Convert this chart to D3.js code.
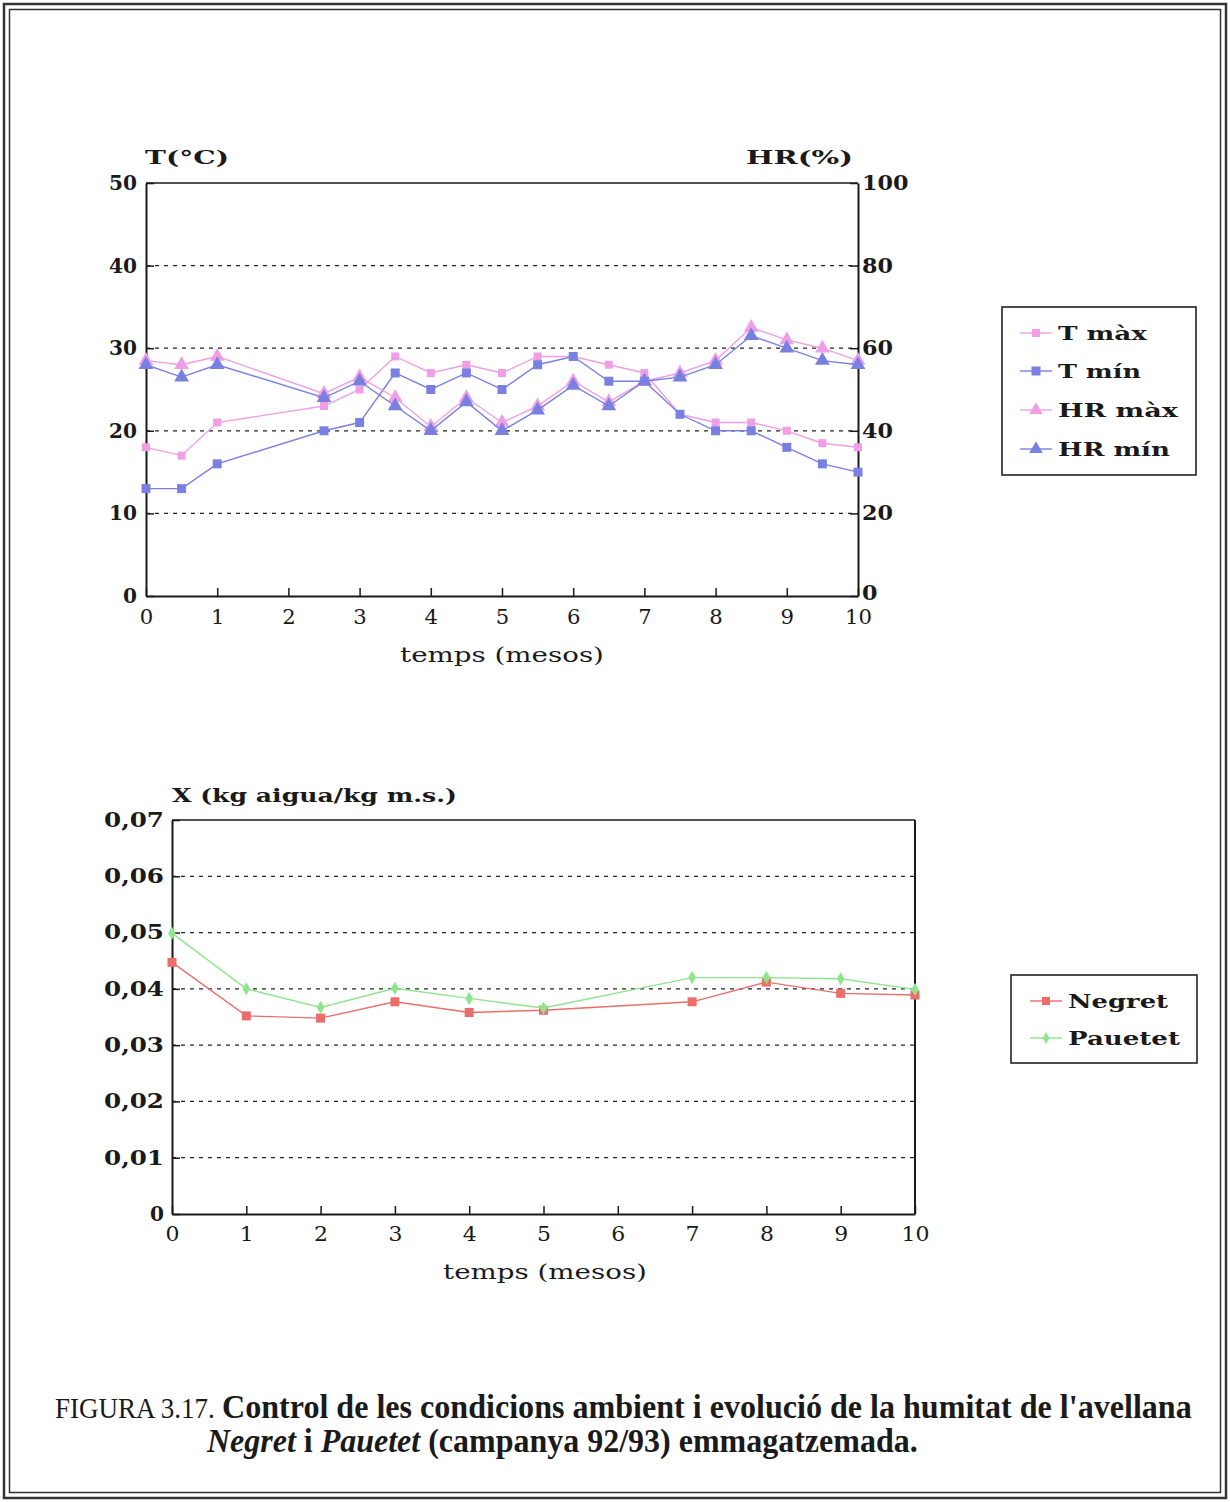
<!DOCTYPE html>
<html><head><meta charset="utf-8">
<script src="https://cdn.jsdelivr.net/npm/d3@7/dist/d3.min.js"></script>
<style>body{margin:0;background:#fff}</style>
</head><body>
<svg id="c" width="1230" height="1502" xmlns="http://www.w3.org/2000/svg"></svg>
<script>
// ---------- DATA ----------
const topMonths = [0,0.5,1,2.5,3,3.5,4,4.5,5,5.5,6,6.5,7,7.5,8,8.5,9,9.5,10];
const tMax  = [18,17,21,23,25,29,27,28,27,29,29,28,27,22,21,21,20,18.5,18];
const tMin  = [13,13,16,20,21,27,25,27,25,28,29,26,26,22,20,20,18,16,15];
const hrMax = [57,56,58,49,53,48,41,48,42,46,52,47,52,54,57,65,62,60,57];
const hrMin = [56,53,56,48,52,46,40,47,40,45,51,46,52,53,56,63,60,57,56];
const topLeftTicks  = [0,10,20,30,40,50];
const topRightTicks = [0,20,40,60,80,100];
const topGrid = [10,20,30,40];
const xTicks = [0,1,2,3,4,5,6,7,8,9,10];
const topLegend = ["T màx","T mín","HR màx","HR mín"];

const botMonths = [0,1,2,3,4,5,7,8,9,10];
const negret  = [0.0447,0.0352,0.0348,0.0377,0.0358,0.0362,0.0377,0.0412,0.0392,0.0389];
const pauetet = [0.0499,0.0400,0.0367,0.0401,0.0383,0.0366,0.0420,0.0420,0.0418,0.0399];
const botYTicks = [0,0.01,0.02,0.03,0.04,0.05,0.06,0.07];
const botGrid = [0.01,0.02,0.03,0.04,0.05,0.06];
const botLegend = ["Negret","Pauetet"];

// ---------- HELPERS ----------
const svg = d3.select("#c");
const SERIF = "'DejaVu Serif', serif";
const TIMES = "'Liberation Serif', 'Times New Roman', serif";
const PINK = "#f09ee6", BLUE = "#7a80e0", RED = "#ea6e6c", GREEN = "#8ee68c";

function fitTo(el, w) {
  const n = el.getComputedTextLength();
  const s = w / n;
  const x = +(el.getAttribute("x") || 0);
  el.setAttribute("x", 0);
  el.setAttribute("transform", `translate(${x},0) scale(${s},1)`);
}
function label(g, txt, x, y, w, size, weight, fam) {
  const t = g.append("text").attr("x", x).attr("y", y)
    .attr("font-family", fam || SERIF).attr("font-size", size)
    .attr("font-weight", weight || "bold").attr("fill", "#1a1a1a").text(txt);
  fitTo(t.node(), w);
  return t;
}
function styleAxis(g, size, weight) {
  g.attr("font-family", SERIF).attr("font-size", size).attr("font-weight", weight);
  g.select(".domain").attr("stroke", "#1a1a1a").attr("stroke-width", 2);
  g.selectAll(".tick line").attr("stroke", "#1a1a1a").attr("stroke-width", 1.5);
  g.selectAll(".tick text").attr("fill", "#1a1a1a");
}

// ---------- PAGE FRAME ----------
svg.append("rect").attr("x",4).attr("y",4).attr("width",1222).attr("height",1494)
  .attr("fill","none").attr("stroke","#333").attr("stroke-width",2.5);
svg.append("rect").attr("x",9.5).attr("y",9.5).attr("width",1211).attr("height",1483)
  .attr("fill","none").attr("stroke","#333").attr("stroke-width",1.5);

// ---------- TOP CHART ----------
const xT = d3.scaleLinear().domain([0,10]).range([146,858]);
const yT = d3.scaleLinear().domain([0,50]).range([596,183]);
const yH = d3.scaleLinear().domain([0,100]).range([596,183]);
const g1 = svg.append("g");

g1.selectAll("line.grid").data(topGrid).join("line").attr("class","grid")
  .attr("x1", xT(0)).attr("x2", xT(10)).attr("y1", d=>yT(d)).attr("y2", d=>yT(d))
  .attr("stroke","#222").attr("stroke-width",1.2).attr("stroke-dasharray","4,5");
g1.append("line").attr("x1",xT(0)).attr("x2",xT(10)).attr("y1",yT(50)).attr("y2",yT(50))
  .attr("stroke","#1a1a1a").attr("stroke-width",1.6);

const axL = g1.append("g").attr("transform",`translate(${xT(0)},0)`)
  .call(d3.axisLeft(yT).tickValues(topLeftTicks).tickSize(-8).tickSizeOuter(0).tickPadding(9));
styleAxis(axL, 20, "bold");
axL.selectAll(".tick text").each(function(d){ fitTo(this, String(d).length*14); });

const axR = g1.append("g").attr("transform",`translate(${xT(10)},0)`)
  .call(d3.axisRight(yH).tickValues(topRightTicks).tickSize(-8).tickSizeOuter(0).tickPadding(4));
styleAxis(axR, 20, "bold");
axR.selectAll(".tick text").each(function(d){ fitTo(this, String(d).length*15.5); });
axR.selectAll(".tick text").filter(d => d === 0).attr("y", -3);

const axB = g1.append("g").attr("transform",`translate(0,${yT(0)})`)
  .call(d3.axisBottom(xT).tickValues(xTicks).tickSize(-8).tickSizeOuter(0).tickPadding(14));
styleAxis(axB, 20, "normal");
axB.selectAll(".tick text").each(function(d){ fitTo(this, String(d).length*13.5); });

label(g1, "T(°C)", 145, 164, 84, 19);
label(g1, "HR(%)", 746, 164, 107, 19);
label(g1, "temps (mesos)", 400, 662, 204, 20, "normal");

const topSeries = [
  {name: topLegend[0], vals: tMax,  y: yT, color: PINK, shape: "square", sz: 8},
  {name: topLegend[1], vals: tMin,  y: yT, color: BLUE, shape: "square", sz: 9},
  {name: topLegend[2], vals: hrMax, y: yH, color: PINK, shape: "tri", sz: 95},
  {name: topLegend[3], vals: hrMin, y: yH, color: BLUE, shape: "tri", sz: 95}
];
function drawMarker(g, shape, color, sz, cx, cy) {
  if (shape === "square") {
    g.append("rect").attr("x", cx - sz/2).attr("y", cy - sz/2).attr("width", sz).attr("height", sz).attr("fill", color);
  } else if (shape === "tri") {
    g.append("path").attr("d", d3.symbol(d3.symbolTriangle, sz)()).attr("transform", `translate(${cx},${cy})`).attr("fill", color);
  } else {
    g.append("path").attr("d", d3.symbol(d3.symbolDiamond, sz)()).attr("transform", `translate(${cx},${cy})`).attr("fill", color);
  }
}
topSeries.forEach(s => {
  const line = d3.line().x((d,i)=>xT(topMonths[i])).y(d=>s.y(d));
  g1.append("path").datum(s.vals).attr("d", line).attr("fill","none")
    .attr("stroke", s.color).attr("stroke-width", 1.4);
  s.vals.forEach((v,i) => drawMarker(g1, s.shape, s.color, s.sz, xT(topMonths[i]), s.y(v)));
});

// top legend
const lg1 = svg.append("g");
lg1.append("rect").attr("x",1002).attr("y",307).attr("width",194).attr("height",168)
  .attr("fill","#fff").attr("stroke","#222").attr("stroke-width",1.6);
const topRows = [333,371,410,449];
const topLegW = [89,83,120,112];
topSeries.forEach((s,i) => {
  const y = topRows[i];
  lg1.append("line").attr("x1",1020).attr("x2",1052).attr("y1",y).attr("y2",y).attr("stroke",s.color).attr("stroke-width",1.4);
  drawMarker(lg1, s.shape, s.color, s.shape==="tri"?80:s.sz, 1036, y);
  label(lg1, s.name, 1058, y+7, topLegW[i], 19);
});

// ---------- BOTTOM CHART ----------
const xB = d3.scaleLinear().domain([0,10]).range([172,915]);
const yB = d3.scaleLinear().domain([0,0.07]).range([1214,820]);
const g2 = svg.append("g");

g2.selectAll("line.grid").data(botGrid).join("line").attr("class","grid")
  .attr("x1", xB(0)).attr("x2", xB(10)).attr("y1", d=>yB(d)).attr("y2", d=>yB(d))
  .attr("stroke","#222").attr("stroke-width",1.2).attr("stroke-dasharray","4,5");
g2.append("line").attr("x1",xB(0)).attr("x2",xB(10)).attr("y1",yB(0.07)).attr("y2",yB(0.07))
  .attr("stroke","#1a1a1a").attr("stroke-width",1.6);
g2.append("line").attr("x1",xB(10)).attr("x2",xB(10)).attr("y1",yB(0.07)).attr("y2",yB(0))
  .attr("stroke","#1a1a1a").attr("stroke-width",2);

const fmtB = d => d === 0 ? "0" : d3.format(".2f")(d).replace(".", ",");
const bL = g2.append("g").attr("transform",`translate(${xB(0)},0)`)
  .call(d3.axisLeft(yB).tickValues(botYTicks).tickFormat(fmtB).tickSize(-8).tickSizeOuter(0).tickPadding(8));
styleAxis(bL, 20, "bold");
bL.selectAll(".tick text").each(function(d){ fitTo(this, d===0 ? 14 : 60); });

const bB = g2.append("g").attr("transform",`translate(0,${yB(0)})`)
  .call(d3.axisBottom(xB).tickValues(xTicks).tickSize(-8).tickSizeOuter(0).tickPadding(13));
styleAxis(bB, 20, "normal");
bB.selectAll(".tick text").each(function(d){ fitTo(this, String(d).length*14); });

label(g2, "X (kg aigua/kg m.s.)", 172, 802, 285, 19);
label(g2, "temps (mesos)", 443, 1279, 204, 20, "normal");

const botSeries = [
  {name: botLegend[0], vals: negret,  color: RED,   shape: "square", sz: 9},
  {name: botLegend[1], vals: pauetet, color: GREEN, shape: "diamond", sz: 50}
];
botSeries.forEach(s => {
  const line = d3.line().x((d,i)=>xB(botMonths[i])).y(d=>yB(d));
  g2.append("path").datum(s.vals).attr("d", line).attr("fill","none")
    .attr("stroke", s.color).attr("stroke-width", 1.4);
  s.vals.forEach((v,i) => drawMarker(g2, s.shape, s.color, s.sz, xB(botMonths[i]), yB(v)));
});

const lg2 = svg.append("g");
lg2.append("rect").attr("x",1011).attr("y",975).attr("width",186).attr("height",88)
  .attr("fill","#fff").attr("stroke","#222").attr("stroke-width",1.6);
const botRows = [1001,1038];
const botLegW = [100,112];
botSeries.forEach((s,i) => {
  const y = botRows[i];
  lg2.append("line").attr("x1",1030).attr("x2",1062).attr("y1",y).attr("y2",y).attr("stroke",s.color).attr("stroke-width",1.4);
  drawMarker(lg2, s.shape, s.color, s.shape==="square"?8:40, 1046, y);
  label(lg2, s.name, 1068, y+7, botLegW[i], 19);
});

// ---------- CAPTION ----------
const cap = svg.append("g");
label(cap, "FIGURA 3.17.", 55, 1418, 160, 29, "normal", TIMES);
label(cap, "Control de les condicions ambient i evolució de la humitat de l'avellana", 222, 1418, 970, 34, "bold", TIMES);
const l2 = cap.append("text").attr("x",207).attr("y",1452)
  .attr("font-family", TIMES).attr("font-size", 34).attr("font-weight","bold").attr("fill","#1a1a1a");
l2.append("tspan").attr("font-style","italic").text("Negret");
l2.append("tspan").text(" i ");
l2.append("tspan").attr("font-style","italic").text("Pauetet");
l2.append("tspan").text(" (campanya 92/93) emmagatzemada.");
fitTo(l2.node(), 711);
</script>
</body></html>
